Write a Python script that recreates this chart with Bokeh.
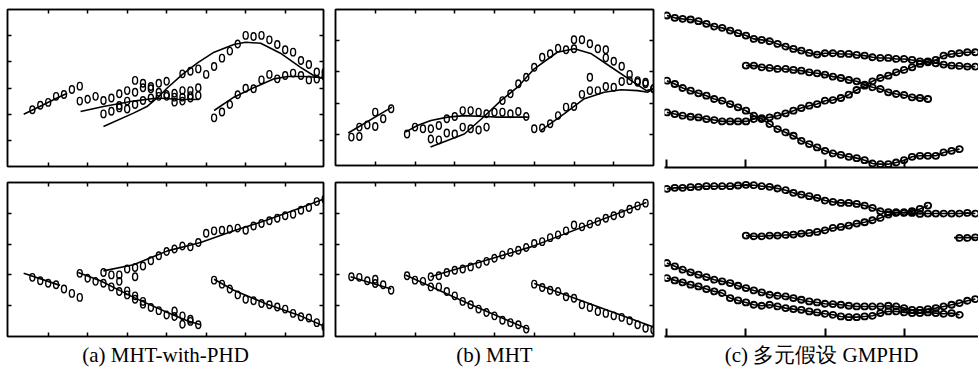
from bokeh.plotting import figure
from bokeh.layouts import row, column
from bokeh.models import Range1d, LinearAxis, FixedTicker, Title, CustomJSTickFormatter, Grid
from bokeh.embed import file_html
from bokeh.resources import INLINE

# ---------------- data ----------------
# captions
captions = ["(a) MHT-with-PHD", "(b) MHT", "(c) 多元假设 GMPHD"]

# axis ticks
ab_xticks = [5, 10, 15, 20, 25, 30, 35]
a_top_yticks = [1, 2, 3, 4, 5]
ab_bot_yticks = [1, 2, 3, 4]
b_top_yticks = [1, 2, 3, 4]
c_xticks = [0, 10, 20, 30]

# ---- (a) top: true tracks (lines) ----
a_top_l1_x = [1.9, 4.0, 6.0, 7.4]
a_top_l1_y = [2.0, 2.3, 2.6, 2.8]
a_top_l2_x = [9.1, 12.0, 15.8, 18.8, 21.3, 24.1]
a_top_l2_y = [2.10, 2.29, 2.50, 2.62, 2.57, 2.56]
a_top_l3_x = [12.0, 15.8, 17.5, 18.8, 20.1, 22.0, 23.9, 26.0, 28.5, 30.0, 31.9, 34.4, 36.9, 38.8, 39.9]
a_top_l3_y = [1.53, 2.04, 2.29, 2.62, 3.01, 3.52, 3.96, 4.37, 4.66, 4.75, 4.71, 4.33, 3.80, 3.44, 3.35]
a_top_l4_x = [26.0, 28.5, 31.0, 33.6, 35.3, 37.4, 39.9]
a_top_l4_y = [2.14, 2.65, 3.01, 3.35, 3.44, 3.44, 3.39]
# ---- (a) top: estimates (markers) ----
a_top_t1_x0, a_top_t1_y = 3, [2.17, 2.34, 2.45, 2.68, 2.75, 2.94, 3.07]
a_top_t2_x0, a_top_t2_y = 9, [2.50, 2.57, 2.68, 2.52, 2.62, 2.78, 2.90, 3.29, 3.18, 3.06, 3.18, 3.26]
a_top_t3_x0, a_top_t3_y = 12, [2.01, 2.11, 2.24, 2.20, 2.37, 2.52, 2.62, 2.68, 2.68, 2.46, 2.50, 2.62, 2.71]
a_top_t4_x0, a_top_t4_y = 14, [2.33, 2.50, 2.84, 3.01, 2.97, 2.84, 2.75, 2.80, 2.90, 2.90, 3.01]
a_top_t5_x0, a_top_t5_y = 21, [2.65, 2.65, 2.71]
a_top_t6_x0, a_top_t6_y = 22, [3.54, 3.64, 3.73, 3.52, 3.82, 4.14, 4.41, 4.68, 5.01, 4.97, 5.01, 4.84,
                               4.66, 4.46, 4.37, 4.05, 3.90, 3.61, 3.61]
a_top_t7_x0, a_top_t7_y = 26, [1.86, 2.08, 2.37, 2.74, 2.99, 2.97, 3.31, 3.52, 3.35, 3.48, 3.57, 3.48,
                               3.31, 3.34, 3.44]

# ---- (a) bottom ----
a_bot_l1_x = [1.9, 6.5]
a_bot_l1_y = [2.05, 1.66]
a_bot_l2_x = [8.8, 11.6, 15.8, 20.1, 22.6, 24.3]
a_bot_l2_y = [2.08, 1.81, 1.27, 0.78, 0.51, 0.38]
a_bot_l3_x = [12.0, 15.8, 20.1, 24.3, 28.5, 32.7, 36.9, 39.8]
a_bot_l3_y = [2.13, 2.33, 2.78, 3.05, 3.43, 3.78, 4.17, 4.46]
a_bot_l4_x = [26.0, 28.5, 32.7, 36.9, 39.8]
a_bot_l4_y = [1.86, 1.50, 1.05, 0.67, 0.35]
a_bot_t1_x0, a_bot_t1_y = 3, [1.92, 1.81, 1.73, 1.68, 1.54, 1.40, 1.27]
a_bot_t2_x0, a_bot_t2_y = 9, [2.05, 1.89, 1.79, 1.73, 1.61, 1.46, 1.35, 1.21, 1.05, 0.94, 0.84, 0.70,
                              0.65, 0.67, 0.49, 0.38]
a_bot_t2b_x = [14, 15, 16, 17, 21, 22, 23]
a_bot_t2b_y = [1.79, 1.48, 1.32, 1.14, 0.83, 0.40, 0.56]
a_bot_t3_x0, a_bot_t3_y = 12, [2.08, 2.00, 2.00, 2.19, 2.24, 2.29, 2.46, 2.62, 2.76, 2.84, 2.94, 2.91,
                               3.05, 3.35, 3.43, 3.45, 3.48, 3.52, 3.45, 3.59, 3.67, 3.76, 3.84, 3.92,
                               3.97, 4.10, 4.19, 4.38, 4.46]
a_bot_t3b_x = [16]
a_bot_t3b_y = [1.94]
a_bot_t4_x0, a_bot_t4_y = 26, [1.83, 1.70, 1.54, 1.35, 1.21, 1.16, 1.07, 1.03, 0.96, 0.89, 0.75, 0.64,
                               0.60, 0.45, 0.31]

# ---- (b) top ----
b_top_l1_x = [1.6, 7.1]
b_top_l1_y = [1.04, 1.87]
b_top_l2_x = [8.8, 10.3, 12.0, 14.1, 16.2, 18.7, 20.4, 24.2]
b_top_l2_y = [1.07, 1.28, 1.44, 1.55, 1.60, 1.57, 1.55, 1.55]
b_top_l3_x = [11.95, 16.2, 18.7, 20.8, 22.9, 25.0, 27.9, 30.05, 32.2, 34.7, 37.2, 39.1, 40.0]
b_top_l3_y = [0.59, 1.01, 1.57, 2.08, 2.51, 3.10, 3.63, 3.74, 3.58, 3.15, 2.72, 2.40, 2.46]
b_top_l4_x = [25.8, 28.8, 31.3, 33.8, 35.9, 38.0, 39.3, 40.0]
b_top_l4_y = [1.12, 1.66, 2.14, 2.35, 2.43, 2.40, 2.35, 2.46]
b_top_t1_x0, b_top_t1_y = 2, [0.91, 1.23, 1.30, 1.71, 1.50, 1.82]
b_top_t1b_x, b_top_t1b_y = [3, 5], [0.93, 1.25]
b_top_t2_x0, b_top_t2_y = 9, [1.01, 1.23, 1.18, 1.18, 1.28, 1.50, 1.57, 1.76, 1.76, 1.71, 1.66, 1.71,
                              1.71, 1.66, 1.73, 1.57]
b_top_t3_x0, b_top_t3_y = 12, [0.85, 0.82, 1.04, 1.01, 1.23, 1.18, 1.14, 1.23]
b_top_t4_x0, b_top_t4_y = 21, [2.08, 2.30, 2.62, 2.83, 3.15, 3.47, 3.58, 3.76, 3.71, 4.03, 4.03, 3.90,
                               3.74, 3.71, 3.34, 3.18, 2.92, 2.72, 2.67, 2.46]
b_top_t4b_x, b_top_t4b_y = [30, 34], [3.74, 3.45]
b_top_t5_x0, b_top_t5_y = 25, [1.18, 1.20, 1.34, 1.60, 1.87, 1.89, 2.28, 2.40, 2.40, 2.53, 2.51, 2.69,
                               2.72, 2.67, 2.62, 2.46]
b_top_t5b_x, b_top_t5b_y = [32], [2.83]

# ---- (b) bottom ----
b_bot_l1_x, b_bot_l1_y = [1.9, 7.0], [1.94, 1.54]
b_bot_l2_x, b_bot_l2_y = [8.8, 16.2, 24.2], [2.00, 1.13, 0.24]
b_bot_l3_x, b_bot_l3_y = [11.95, 24.6, 39.1], [1.94, 2.91, 4.35]
b_bot_l4_x, b_bot_l4_y = [25.0, 40.0], [1.72, 0.31]
b_bot_t1_x0, b_bot_t1_y = 2, [1.94, 1.92, 1.81, 1.86, 1.68, 1.50]
b_bot_t1b_x, b_bot_t1b_y = [5], [1.72]
b_bot_t2_x0, b_bot_t2_y = 9, [1.97, 1.83, 1.79, 1.61, 1.61, 1.46, 1.32, 1.14, 1.03, 0.89, 0.78, 0.67,
                              0.53, 0.45, 0.38, 0.24]
b_bot_t3_x0, b_bot_t3_y = 12, [1.94, 1.97, 2.08, 2.15, 2.19, 2.26, 2.35, 2.44, 2.54, 2.65, 2.73, 2.80,
                               2.89, 3.02, 3.08, 3.21, 3.30, 3.43, 3.62, 3.56, 3.65, 3.73, 3.84, 3.92,
                               3.99, 4.13, 4.24, 4.33]
b_bot_t4_x0, b_bot_t4_y = 25, [1.70, 1.59, 1.50, 1.46, 1.29, 1.24, 1.03, 0.94, 0.81, 0.75, 0.67, 0.62,
                               0.51, 0.38, 0.27, 0.21]

# ---- (c) top ----
c_top_t1_x0, c_top_t1_y = 0, [9.10, 8.96, 8.90, 8.86, 8.76, 8.60, 8.44, 8.36, 8.20, 8.04, 7.90, 7.70,
                              7.64, 7.56, 7.40, 7.24, 7.10, 7.00, 6.86, 6.76, 6.84, 6.84, 6.80, 6.80,
                              6.74, 6.70, 6.60, 6.56, 6.56, 6.50, 6.50, 6.44, 6.36, 6.30, 6.24, 6.16,
                              6.10, 6.08, 6.04, 6.04]
c_top_t2_x0, c_top_t2_y = 10, [6.10, 6.10, 6.00, 5.96, 5.90, 5.90, 5.84, 5.80, 5.70, 5.64, 5.56, 5.44,
                               5.36, 5.24, 5.16, 4.96, 4.80, 4.70, 4.50, 4.40, 4.34, 4.20, 4.16, 4.10]
c_top_t3_x0, c_top_t3_y = 0, [5.20, 5.00, 4.76, 4.60, 4.44, 4.30, 4.10, 4.00, 3.80, 3.60, 3.40, 3.10,
                              2.90, 2.60, 2.30, 2.10, 1.90, 1.60, 1.40, 1.20, 1.00, 0.84, 0.76, 0.64,
                              0.56, 0.44, 0.24, 0.20, 0.20, 0.30, 0.44, 0.64, 0.70, 0.70, 0.70, 0.90,
                              1.00, 1.10]
c_top_t4_x0, c_top_t4_y = 0, [3.30, 3.20, 3.10, 3.04, 3.00, 2.90, 2.84, 2.76, 2.76, 2.76, 2.76, 2.90,
                              2.96, 3.00, 3.10, 3.24, 3.40, 3.56, 3.70, 3.80, 4.00, 4.04, 4.16, 4.36,
                              4.64, 4.90, 5.16, 5.36, 5.50, 5.70, 5.84, 6.00, 6.20, 6.36, 6.44, 6.70,
                              6.80, 6.84, 6.90, 6.90]

# ---- (c) bottom ----
c_bot_t1_x0, c_bot_t1_y = 0, [8.84, 8.90, 8.90, 8.94, 8.96, 9.00, 9.00, 9.00, 9.00, 9.04, 9.08, 9.06,
                              9.00, 8.96, 8.86, 8.76, 8.60, 8.50, 8.40, 8.30, 8.14, 8.06, 8.00, 8.00,
                              7.94, 7.84, 7.70, 7.50, 7.44, 7.44, 7.40, 7.40, 7.34, 7.36, 7.36, 7.36,
                              7.36, 7.36, 7.40, 7.36]
c_bot_t2_x0, c_bot_t2_y = 10, [6.04, 6.00, 6.00, 6.04, 6.04, 6.08, 6.10, 6.16, 6.20, 6.26, 6.36, 6.50,
                               6.56, 6.64, 6.76, 6.84, 6.96, 7.10, 7.30, 7.40, 7.44, 7.50, 7.64, 7.84]
c_bot_t3_x0, c_bot_t3_y = 0, [4.40, 4.20, 4.00, 3.84, 3.70, 3.56, 3.40, 3.30, 3.20, 3.04, 2.90, 2.76,
                              2.64, 2.50, 2.44, 2.40, 2.30, 2.20, 2.10, 2.04, 1.96, 1.94, 1.90, 1.84,
                              1.80, 1.80, 1.80, 1.80, 1.84, 1.80, 1.70, 1.60, 1.60, 1.64, 1.70, 1.80,
                              1.90, 2.00, 2.14, 2.24]
c_bot_t4_x0, c_bot_t4_y = 0, [3.50, 3.36, 3.24, 3.10, 3.00, 2.84, 2.70, 2.60, 2.30, 2.16, 2.04, 1.90,
                              1.84, 1.90, 1.80, 1.70, 1.64, 1.60, 1.50, 1.44, 1.36, 1.30, 1.20, 1.16,
                              1.16, 1.20, 1.24, 1.40, 1.50, 1.50, 1.44, 1.40, 1.40, 1.44, 1.40, 1.36,
                              1.40, 1.30]
c_bot_t5_x, c_bot_t5_y = [37, 38, 39], [5.90, 5.90, 5.94]
c_bot_l5_x, c_bot_l5_y = [36.3, 39.4], [5.92, 5.92]

# ---------------- drawing ----------------
BLACK = "black"
SERIF = "serif"


def steps(x0, ys):
    return list(range(x0, x0 + len(ys)))


def add_axis(p, side, ticks, tick_len, lw):
    ax = LinearAxis(ticker=FixedTicker(ticks=ticks),
                    formatter=CustomJSTickFormatter(code="return ''"))
    ax.major_tick_in = tick_len
    ax.major_tick_out = 0
    ax.minor_tick_in = 0
    ax.minor_tick_out = 0
    ax.major_label_text_font_size = "0px"
    ax.major_label_standoff = 0
    ax.axis_line_color = BLACK
    ax.axis_line_width = lw
    ax.major_tick_line_color = BLACK
    ax.major_tick_line_width = lw
    p.add_layout(ax, side)


def make_fig(fw, fh, xr, yr, mbl, mbr, mbt, mbb, outline=True):
    p = figure(frame_width=fw, frame_height=fh, x_range=Range1d(*xr), y_range=Range1d(*yr),
               output_backend="svg", toolbar_location=None, title=None,
               x_axis_location=None, y_axis_location=None,
               min_border_left=mbl, min_border_right=mbr, min_border_top=mbt, min_border_bottom=mbb)
    for g in p.select(type=Grid):
        g.visible = False
    p.outline_line_color = BLACK if outline else None
    p.outline_line_width = 1.5
    p.background_fill_color = "white"
    p.border_fill_color = "white"
    return p


def box_axes(p, xt, yt):
    add_axis(p, "below", xt, 4, 1.5)
    add_axis(p, "above", xt, 4, 1.5)
    add_axis(p, "left", yt, 4, 1.5)
    add_axis(p, "right", yt, 4, 1.5)


def lines(p, pairs, lw=1.6):
    for xs, ys in pairs:
        p.line(xs, ys, line_color=BLACK, line_width=lw)


def marks(p, xs, ys, w=5, h=7.5, lw=1.4):
    p.ellipse(x=xs, y=ys, width=w, height=h, width_units="screen", height_units="screen",
              fill_color=None, line_color=BLACK, line_width=lw)


def caption(p, text):
    p.add_layout(Title(text=text, align="center", text_font=SERIF, text_font_size="21px",
                       text_font_style="normal", text_color=BLACK, standoff=8),
                 "below")


# (a) top
a_top = make_fig(316, 157, (-0.15, 39.85), (0, 6), 7, 6, 9, 8)
box_axes(a_top, ab_xticks, a_top_yticks)
lines(a_top, [(a_top_l1_x, a_top_l1_y), (a_top_l2_x, a_top_l2_y),
              (a_top_l3_x, a_top_l3_y), (a_top_l4_x, a_top_l4_y)])
for x0, ys in [(a_top_t1_x0, a_top_t1_y), (a_top_t2_x0, a_top_t2_y), (a_top_t3_x0, a_top_t3_y),
               (a_top_t4_x0, a_top_t4_y), (a_top_t5_x0, a_top_t5_y), (a_top_t6_x0, a_top_t6_y),
               (a_top_t7_x0, a_top_t7_y)]:
    marks(a_top, steps(x0, ys), ys)

# (a) bottom
a_bot = make_fig(316, 154, (-0.15, 39.85), (0, 5), 7, 6, 8, 0)
box_axes(a_bot, ab_xticks, ab_bot_yticks)
lines(a_bot, [(a_bot_l1_x, a_bot_l1_y), (a_bot_l2_x, a_bot_l2_y),
              (a_bot_l3_x, a_bot_l3_y), (a_bot_l4_x, a_bot_l4_y)])
for x0, ys in [(a_bot_t1_x0, a_bot_t1_y), (a_bot_t2_x0, a_bot_t2_y), (a_bot_t3_x0, a_bot_t3_y),
               (a_bot_t4_x0, a_bot_t4_y)]:
    marks(a_bot, steps(x0, ys), ys)
marks(a_bot, a_bot_t2b_x, a_bot_t2b_y)
marks(a_bot, a_bot_t3b_x, a_bot_t3b_y)
caption(a_bot, captions[0])

# (b) top
b_top = make_fig(318, 156, (0, 40), (0, 5), 6, 6, 9, 9)
box_axes(b_top, ab_xticks, b_top_yticks)
lines(b_top, [(b_top_l1_x, b_top_l1_y), (b_top_l2_x, b_top_l2_y),
              (b_top_l3_x, b_top_l3_y), (b_top_l4_x, b_top_l4_y)])
for x0, ys in [(b_top_t1_x0, b_top_t1_y), (b_top_t2_x0, b_top_t2_y), (b_top_t3_x0, b_top_t3_y),
               (b_top_t4_x0, b_top_t4_y), (b_top_t5_x0, b_top_t5_y)]:
    marks(b_top, steps(x0, ys), ys)
marks(b_top, b_top_t1b_x, b_top_t1b_y)
marks(b_top, b_top_t4b_x, b_top_t4b_y)
marks(b_top, b_top_t5b_x, b_top_t5b_y)

# (b) bottom
b_bot = make_fig(318, 154, (0, 40), (0, 5), 6, 6, 8, 0)
box_axes(b_bot, ab_xticks, ab_bot_yticks)
lines(b_bot, [(b_bot_l1_x, b_bot_l1_y), (b_bot_l2_x, b_bot_l2_y),
              (b_bot_l3_x, b_bot_l3_y), (b_bot_l4_x, b_bot_l4_y)])
for x0, ys in [(b_bot_t1_x0, b_bot_t1_y), (b_bot_t2_x0, b_bot_t2_y), (b_bot_t3_x0, b_bot_t3_y),
               (b_bot_t4_x0, b_bot_t4_y)]:
    marks(b_bot, steps(x0, ys), ys)
marks(b_bot, b_bot_t1b_x, b_bot_t1b_y)
caption(b_bot, captions[1])

# (c) top
C_MW, C_MH, C_LW = 6.5, 6, 1.8
c_top = make_fig(314, 159, (-0.3, 39.4), (0, 9.52), 5, 0, 8, 6, outline=False)
add_axis(c_top, "below", c_xticks, 8, 2)
for x0, ys in [(c_top_t1_x0, c_top_t1_y), (c_top_t2_x0, c_top_t2_y), (c_top_t3_x0, c_top_t3_y),
               (c_top_t4_x0, c_top_t4_y)]:
    c_top.line(steps(x0, ys), ys, line_color=BLACK, line_width=1.6)
    marks(c_top, steps(x0, ys), ys, w=C_MW, h=C_MH, lw=C_LW)

# (c) bottom
c_bot = make_fig(314, 158, (-0.3, 39.4), (0, 9.46), 5, 0, 5, 0, outline=False)
add_axis(c_bot, "below", c_xticks, 8, 2)
for x0, ys in [(c_bot_t1_x0, c_bot_t1_y), (c_bot_t2_x0, c_bot_t2_y), (c_bot_t3_x0, c_bot_t3_y),
               (c_bot_t4_x0, c_bot_t4_y)]:
    c_bot.line(steps(x0, ys), ys, line_color=BLACK, line_width=1.6)
    marks(c_bot, steps(x0, ys), ys, w=C_MW, h=C_MH, lw=C_LW)
c_bot.line(c_bot_l5_x, c_bot_l5_y, line_color=BLACK, line_width=1.6)
marks(c_bot, c_bot_t5_x, c_bot_t5_y, w=C_MW, h=C_MH, lw=C_LW)
caption(c_bot, captions[2])

layout = row(column(a_top, a_bot), column(b_top, b_bot), column(c_top, c_bot))
open("out.html", "w").write(file_html(layout, INLINE))
